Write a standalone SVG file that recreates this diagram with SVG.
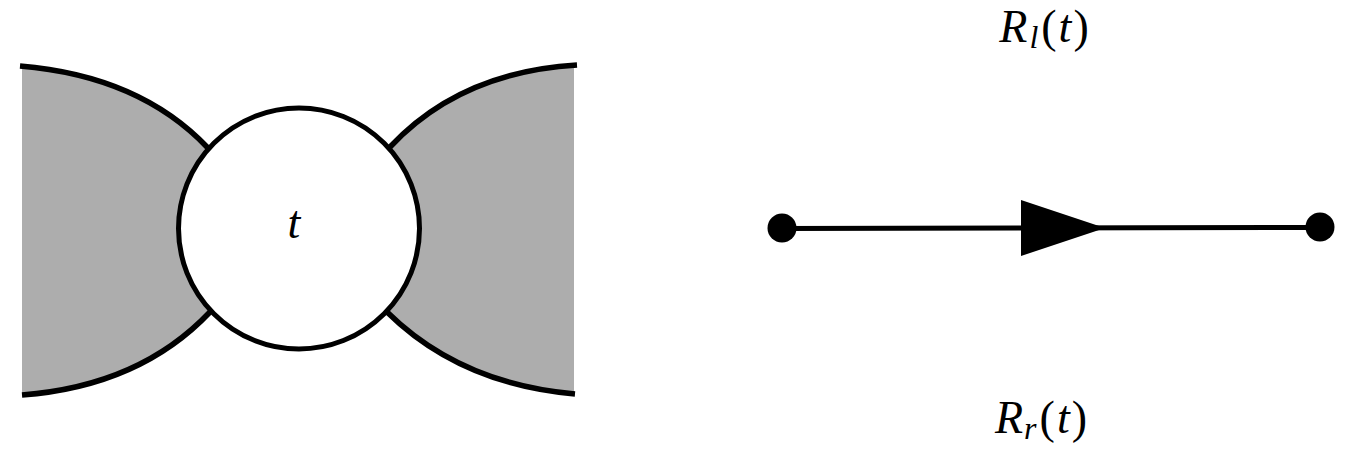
<svg xmlns="http://www.w3.org/2000/svg" width="1354" height="465" viewBox="0 0 1354 465">
<style>
.lbl{font-family:"Liberation Serif","DejaVu Serif",serif;font-size:46px;fill:#000}
.it{font-style:italic}
.wing{fill:#adadad;stroke:none}
.edge{fill:none;stroke:#000;stroke-width:5.5;stroke-linecap:butt}
</style>
<rect width="1354" height="465" fill="#fff"/>
<g id="bowtie">
<path class="wing" d="M22,66 Q140,76 208,148 L210,312 Q140,386 22,395 Z"/>
<path class="wing" d="M574,65 Q460,72 390,147 L387,312 Q460,384 574,394 Z"/>
<path class="edge" d="M20,66 Q140,76 208,148"/>
<path class="edge" d="M22,395 Q140,386 210,312"/>
<path class="edge" d="M577,65 Q460,72 390,147"/>
<path class="edge" d="M575,394 Q460,384 387,312"/>
<circle cx="299" cy="228.5" r="120.5" fill="#fff" stroke="#000" stroke-width="5"/>
<text class="lbl it" x="294" y="238" text-anchor="middle">t</text>
</g>
<g id="connectors">
<line x1="782" y1="228.5" x2="1320" y2="227.5" stroke="#000" stroke-width="5"/>
<polygon points="1021,200 1105,228 1021,256" fill="#000"/>
</g>
<g id="node-left"><circle cx="782" cy="228" r="14.5" fill="#000"/></g>
<g id="node-right"><circle cx="1320" cy="227" r="14.5" fill="#000"/></g>
<g id="label-top"><text class="lbl" x="1044" y="42" text-anchor="middle"><tspan class="it">R</tspan><tspan class="it" font-size="32" dy="6" dx="2">l</tspan><tspan dy="-6" dx="3">(</tspan><tspan class="it" dx="2">t</tspan><tspan dx="2">)</tspan></text></g>
<g id="label-bottom"><text class="lbl" x="1041" y="433" text-anchor="middle"><tspan class="it">R</tspan><tspan class="it" font-size="32" dy="6" dx="1">r</tspan><tspan dy="-6" dx="3">(</tspan><tspan class="it" dx="2">t</tspan><tspan dx="2">)</tspan></text></g>
</svg>
